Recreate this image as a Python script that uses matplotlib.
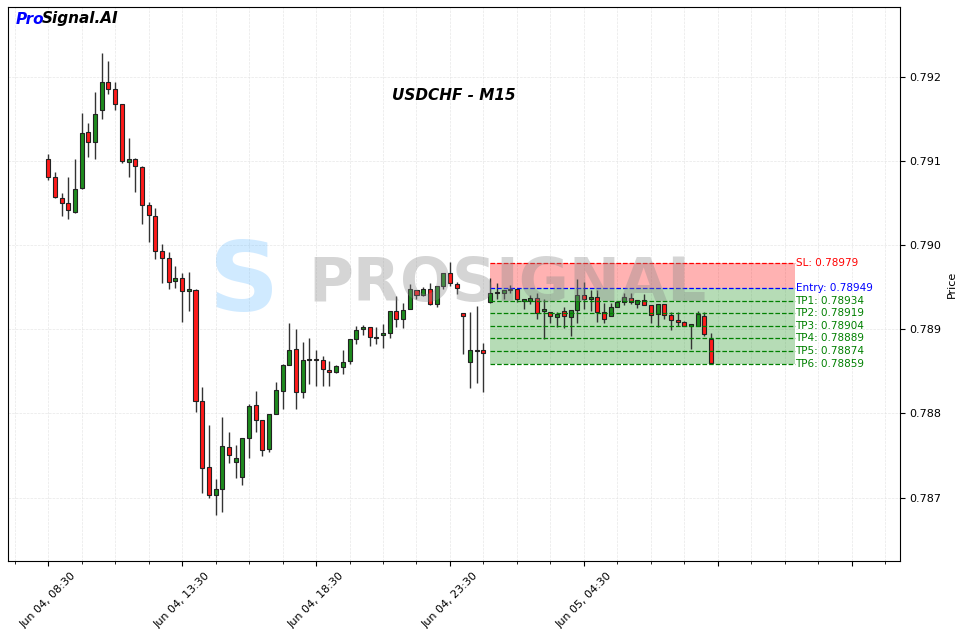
import matplotlib
matplotlib.use("Agg")
import matplotlib.pyplot as plt
import numpy as np
from datetime import datetime, timedelta

# OHLC in units of 1e-5 (price = value / 1e5)
opens = [79102,79081,79056,79050,79039,79068,79134,79122,79160,79194,79185,79167,79099,79102,79093,79047,79034,78993,78984,78957,
         78961,78945,78946,78815,78736,78703,78710,78760,78742,78724,78771,78810,78792,78758,78799,78826,78857,78876,78825,78863,
         78865,78863,78851,78849,78855,78862,78888,78900,78903,78891,78893,78895,78922,78912,78924,78946,78941,78948,78930,78951,
         78967,78954,78919,78861,78875,78875,78932,78943,78943,78946,78948,78933,78933,78937,78922,78920,78914,78922,78914,78923,
         78941,78936,78938,78920,78916,78926,78932,78937,78930,78935,78929,78918,78930,78917,78911,78908,78904,78904,78916,78888]
highs = [79108,79087,79062,79081,79102,79157,79145,79182,79228,79219,79194,79167,79127,79103,79094,79051,79044,79001,78992,78975,
         78967,78968,78948,78831,78786,78722,78796,78778,78762,78771,78811,78826,78792,78799,78837,78859,78907,78900,78885,78889,
         78875,78868,78862,78857,78875,78888,78904,78905,78903,78903,78906,78922,78939,78931,78954,78946,78950,78955,78951,78967,
         78980,78956,78919,78920,78927,78884,78961,78955,78946,78952,78948,78936,78941,78943,78936,78920,78920,78926,78923,78960,
         78956,78946,78946,78931,78931,78932,78943,78943,78935,78942,78929,78930,78930,78920,78920,78910,78906,78922,78920,78895]
lows = [79077,79056,79034,79031,79038,79066,79104,79102,79150,79179,79160,79097,79081,79063,79025,79004,78983,78955,78948,78949,
        78908,78922,78802,78705,78699,78679,78683,78741,78723,78715,78747,78778,78749,78754,78799,78805,78857,78805,78818,78835,
        78832,78832,78832,78848,78847,78859,78882,78893,78880,78882,78878,78889,78903,78901,78924,78936,78939,78929,78926,78948,
        78951,78942,78870,78830,78836,78825,78931,78936,78936,78943,78932,78924,78930,78912,78888,78907,78903,78901,78892,78907,
        78924,78922,78908,78907,78916,78926,78929,78930,78925,78929,78907,78903,78912,78899,78904,78904,78876,78904,78892,78860]
closes = [79081,79057,79050,79042,79066,79133,79122,79156,79194,79185,79167,79100,79102,79094,79047,79036,78993,78984,78956,78961,
          78945,78948,78815,78735,78703,78710,78761,78750,78747,78771,78809,78792,78756,78799,78828,78857,78875,78825,78863,78865,
          78863,78853,78849,78856,78861,78888,78899,78903,78891,78890,78895,78922,78912,78923,78948,78941,78948,78930,78951,78967,
          78955,78949,78916,78875,78874,78872,78943,78944,78946,78948,78936,78936,78937,78919,78924,78916,78918,78916,78923,78941,
          78936,78938,78920,78912,78926,78932,78938,78932,78935,78929,78917,78930,78917,78911,78908,78904,78906,78918,78894,78860]

sl = 0.78979
entry = 0.78949
tps = [0.78934, 0.78919, 0.78904, 0.78889, 0.78874, 0.78859]
start_time = datetime(2024, 6, 4, 8, 30)
zone_start, zone_end = 66, 111.5

o = np.array(opens) / 1e5; h = np.array(highs) / 1e5
l = np.array(lows) / 1e5; c = np.array(closes) / 1e5
x = np.arange(len(o))

fig = plt.figure(figsize=(9.56, 6.29), dpi=100)
ax = fig.add_axes([8/956, 68/629, 892/956, 554/629])

up = c >= o
col = np.where(up, "#1e8b1e", "#ff1a1a")
ax.vlines(x, l, h, color="#333333", linewidth=1, zorder=2)
ax.bar(x, np.abs(c - o) + 1e-6, bottom=np.minimum(o, c), width=0.6, color=col,
       edgecolor="#222222", linewidth=0.8, zorder=3)

ax.fill_between([zone_start, zone_end], entry, sl, color="#ff0000", alpha=0.3, lw=0, zorder=1)
ax.fill_between([zone_start, zone_end], tps[-1], entry, color="#2e9b2e", alpha=0.35, lw=0, zorder=1)
ax.hlines(sl, zone_start, zone_end, colors="red", linestyles="--", lw=0.9, zorder=4)
ax.hlines(entry, zone_start, zone_end, colors="blue", linestyles="--", lw=0.9, zorder=4)
ax.text(zone_end + 0.1, sl, f"SL: {sl:.5f}", color="red", fontsize=7.5, va="center")
ax.text(zone_end + 0.1, entry, f"Entry: {entry:.5f}", color="blue", fontsize=7.5, va="center")
for i, tp in enumerate(tps):
    ax.hlines(tp, zone_start, zone_end, colors="green", linestyles="--", lw=0.9, zorder=4)
    ax.text(zone_end + 0.1, tp, f"TP{i+1}: {tp:.5f}", color="green", fontsize=7.5, va="center")

ax.set_xlim(-6, 127.2)
ax.set_ylim(0.786246, 0.792827)
major = np.arange(0, 121, 20)
labels = []
for m in major:
    if m < len(o):
        t = start_time + timedelta(minutes=15 * int(m))
        labels.append(t.strftime("%b %d, %H:%M"))
    else:
        labels.append("")
ax.set_xticks(major)
ax.set_xticklabels(labels, rotation=45, ha="center", fontsize=8)
ax.set_xticks(np.arange(-5, 127, 5), minor=True)
ax.yaxis.tick_right()
ax.yaxis.set_label_position("right")
ax.set_yticks([0.787, 0.788, 0.789, 0.790, 0.791, 0.792])
ax.set_yticklabels([f"{v:.3f}" for v in [0.787, 0.788, 0.789, 0.790, 0.791, 0.792]], fontsize=8)
ax.set_ylabel("Price", fontsize=8)
ax.grid(True, which="both", color="#dddddd", linestyle="--", linewidth=0.5, alpha=0.7)
ax.set_axisbelow(True)

ax.text(0.5, 0.84, "USDCHF - M15", transform=ax.transAxes, ha="center", va="center",
        fontsize=11, fontweight="bold", fontstyle="italic")
ax.text(0.56, 0.5, "PROSIGNAL", transform=ax.transAxes, ha="center", va="center",
        fontsize=44, fontweight="bold", color="#888888", alpha=0.35, zorder=5)
ax.text(0.265, 0.5, "S", transform=ax.transAxes, ha="center", va="center",
        fontsize=70, fontweight="bold", color="#66bbff", alpha=0.3, zorder=5)

fig.text(16/956, 1 - 19/629, "Pro", color="blue", fontsize=11, fontweight="bold",
         fontstyle="italic", va="center")
fig.text(42/956, 1 - 19/629, "Signal.AI", color="black", fontsize=11, fontweight="bold",
         fontstyle="italic", va="center")

fig.savefig("out.png", dpi=100)
